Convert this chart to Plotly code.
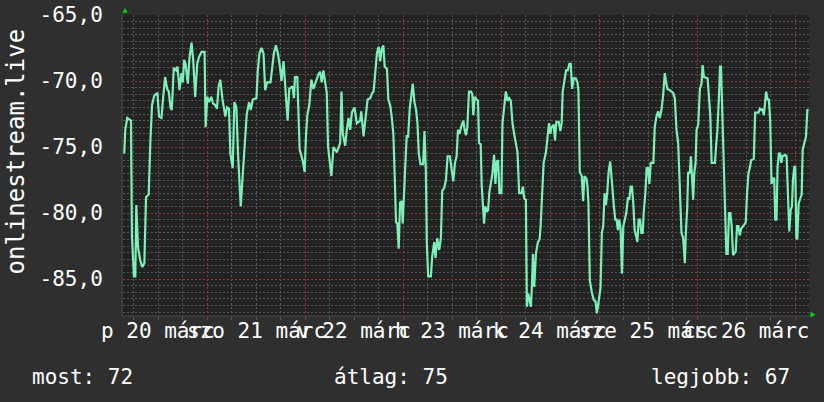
import plotly.graph_objects as go
import pandas as pd

# hours since 2020-03-20 03:00 and signal values
hours = [
    0.74, 0.98, 1.48, 2.38, 2.62, 3.11, 3.44, 3.69, 4.10, 4.67, 5.16, 5.66, 6.07, 6.72, 7.13, 7.54,
    8.11, 8.85, 9.26, 9.84, 10.25, 10.74, 11.23, 11.64, 12.05, 12.38, 12.87, 13.44, 13.77, 14.26,
    14.75, 15.08, 15.41, 15.74, 16.31, 16.72, 17.21, 17.62, 18.11, 18.61, 19.02, 19.67, 20.41,
    20.66, 21.07, 21.48, 22.05, 22.46, 22.95, 23.44, 23.85, 24.26, 24.75, 25.16, 25.49, 25.90,
    26.39, 26.72, 27.30, 27.70, 28.20, 28.61, 29.26, 29.67, 30.25, 30.74, 31.31, 31.72, 32.21,
    33.11, 33.44, 33.85, 34.34, 34.84, 35.25, 35.74, 36.56, 36.89, 37.38, 37.87, 38.36, 38.85,
    39.26, 39.75, 40.33, 40.74, 41.15, 41.97, 42.30,
    42.54, 43.11, 43.36, 43.69, 44.42, 44.92, 45.24, 45.57, 46.06, 46.56, 47.05, 47.54, 48.28,
    48.69, 49.10, 49.51, 49.92, 50.33, 50.65, 51.47, 51.97, 52.79, 53.61, 53.93, 54.26, 54.83,
    55.24, 55.65, 56.06, 56.47, 57.13, 57.70, 58.52, 58.77, 59.34, 59.84, 60.33, 60.98, 61.47,
    61.80, 62.21, 62.62, 63.03, 63.44, 63.77, 64.18, 64.51, 65.08, 65.41, 65.90, 66.23, 66.64,
    66.97, 67.29, 67.62, 67.95, 68.28, 68.69, 68.93, 69.26, 69.59, 69.92, 70.24, 70.65, 70.98,
    71.39, 71.80, 72.21, 72.54, 72.87, 73.28, 73.93, 74.26, 74.59, 74.84, 75.16, 75.82, 76.15,
    76.64, 76.97, 77.38, 77.87, 78.28, 78.61, 79.10, 79.51, 79.92, 80.49, 80.90, 81.31, 81.72,
    82.13, 82.46, 82.87, 83.20,
    83.77, 84.09, 84.42, 84.75, 85.16, 85.65, 85.98, 86.22, 86.55, 87.04, 87.37, 87.62, 88.03,
    88.27, 88.60, 88.85, 89.18, 89.50, 89.83, 90.16, 90.49, 90.90, 91.31, 91.63, 91.96, 92.29,
    92.62, 93.11, 93.36, 93.77, 94.18, 94.59, 95.00, 95.41, 95.81, 96.22, 96.63, 97.04, 97.45,
    98.03, 98.36, 98.68, 99.09, 99.34, 99.67, 100.32, 100.57, 100.82, 101.14, 101.55, 102.04,
    102.45, 102.70, 103.03, 103.44, 104.01, 104.42, 104.75, 105.08, 105.40, 105.90, 106.23,
    106.55, 107.13, 107.54, 107.86, 108.11, 108.52, 108.93, 109.34, 109.75, 110.08, 110.41,
    110.81, 111.31, 111.72, 111.96, 112.29, 112.78, 113.11, 113.44, 113.93, 114.18, 114.42,
    114.75, 115.24, 115.73, 116.14, 116.47, 116.72, 117.05, 117.37, 117.70, 118.03, 118.36,
    118.69, 119.01, 119.34, 119.75, 119.99, 120.24, 120.65, 120.98, 121.31, 121.63, 121.96,
    122.29, 122.62, 122.95, 123.27, 123.68, 124.09, 124.42, 124.75, 125.08,
    125.40, 125.73, 126.14, 126.39, 126.71, 127.04, 127.37, 127.70, 127.94, 128.35, 128.68,
    129.01, 129.34, 129.66, 130.32, 130.65, 131.06, 131.47, 131.88, 132.29, 132.70, 133.11,
    133.43, 133.76, 134.34, 134.75, 135.16, 135.57, 135.98, 136.39, 136.80, 137.20, 137.61,
    138.02, 138.27, 138.60, 138.84, 139.25, 139.50, 139.83, 140.07, 140.32, 140.65, 140.89,
    141.30, 141.71, 142.12, 142.37, 142.70, 143.60, 143.93, 144.25, 144.58, 145.40, 145.65,
    145.98, 146.39, 146.63, 146.88, 147.20, 147.45, 147.86, 148.19, 148.52, 148.84, 149.17,
    149.50, 149.83, 150.48, 150.81, 151.14, 151.47, 151.80, 152.53, 152.94, 153.27, 153.60,
    153.93, 154.25, 154.91, 155.24, 156.06, 156.39, 156.71, 157.04, 157.37, 157.70, 157.94,
    158.27, 158.60, 158.93, 159.25, 159.58, 159.91, 160.16, 160.48, 160.73, 161.06, 161.39,
    161.63, 161.96, 162.62, 162.94, 163.27, 163.60, 163.93, 164.25, 164.50, 164.83, 165.07,
    165.32, 165.56, 165.89, 166.30, 166.63, 166.88, 167.37, 167.70, 168.02, 168.35,
]
values = [
    -75.5, -73.7, -72.8, -73.0, -81.8, -84.8, -84.8, -79.4, -82.6, -83.6, -84.1, -83.8, -78.8, -78.6, -74.6, -71.8,
    -71.1, -70.9, -72.7, -72.8, -71.3, -69.7, -70.6, -70.8, -72.0, -72.2, -69.0, -69.2, -68.9, -70.7,
    -69.4, -70.1, -68.4, -68.7, -70.2, -68.2, -67.1, -68.4, -71.2, -68.7, -68.2, -67.8, -67.8,
    -73.5, -71.2, -71.6, -71.2, -71.7, -71.8, -72.1, -70.4, -69.9, -71.3, -72.0, -72.7, -72.0,
    -72.1, -75.5, -76.6, -71.6, -72.0, -75.6, -79.5, -77.5, -75.0, -72.5, -71.6, -72.2, -71.4,
    -71.3, -69.2, -67.9, -67.5, -67.9, -70.7, -70.1, -70.1, -69.0, -67.9, -67.3, -67.9, -68.9,
    -70.0, -68.5, -71.2, -73.0, -70.6, -70.4, -71.3,
    -69.7, -69.7, -71.9, -75.2, -76.0, -76.9, -74.1, -72.6, -71.8, -69.9, -70.6, -70.1, -69.5,
    -69.3, -70.1, -69.2, -70.1, -70.9, -75.0, -77.2, -75.0, -75.4, -74.7, -70.8, -74.0, -74.9,
    -73.7, -72.8, -73.7, -72.4, -72.0, -73.2, -73.0, -72.3, -74.2, -73.0, -71.4, -71.3, -70.9,
    -70.8, -69.3, -67.9, -67.4, -68.5, -67.6, -67.3, -68.9, -69.1, -71.4, -71.9, -72.7, -74.0,
    -77.2, -80.7, -80.8, -82.7, -79.2, -79.1, -80.8, -78.0, -76.2, -74.1, -74.3, -72.1, -71.1,
    -70.2, -71.6, -72.2, -73.2, -75.5, -76.3, -76.3, -73.8, -76.7, -82.3, -84.8, -84.8, -83.3,
    -82.2, -83.4, -81.9, -82.8, -81.9, -78.3, -78.1, -77.5, -75.7, -75.7, -76.7, -77.6, -76.2,
    -75.7, -73.7, -74.0, -73.5,
    -73.0, -73.7, -74.1, -73.5, -70.8, -70.8, -71.0, -72.6, -71.2, -71.4, -71.5, -74.7, -74.8,
    -77.9, -79.4, -80.8, -79.5, -79.9, -79.8, -78.4, -77.8, -77.0, -75.6, -77.8, -76.1, -76.0,
    -78.5, -78.5, -73.2, -72.1, -70.8, -71.5, -71.3, -71.5, -73.2, -74.0, -74.7, -75.4, -78.5,
    -78.5, -78.0, -78.9, -79.0, -87.1, -86.1, -87.1, -85.6, -83.1, -85.6, -83.1, -82.2,
    -82.0, -81.0, -78.5, -76.2, -75.4, -74.0, -73.2, -74.0, -73.5, -73.3, -74.5,
    -73.1, -73.1, -73.8, -73.2, -70.8, -69.9, -69.2, -69.2, -68.7, -68.7, -70.6,
    -69.8, -69.8, -70.1, -70.7, -76.9, -77.2, -79.1, -77.2, -77.4, -78.0, -79.3,
    -85.1, -86.0, -86.6, -86.7, -87.6, -87.1, -86.5, -85.7, -81.5, -81.0, -78.5,
    -79.4, -78.5, -76.9, -76.1, -77.0, -78.5, -79.5, -80.5, -80.5, -81.3, -80.5,
    -81.2, -84.6, -81.0, -80.5, -80.0, -78.8, -79.0, -78.0, -78.0,
    -79.3, -81.3, -81.8, -82.2, -80.5, -80.5, -81.5, -81.5, -80.0, -78.5, -76.6,
    -76.6, -77.8, -76.2, -76.2, -73.5, -72.7, -72.3, -72.8, -72.2, -71.1, -69.4,
    -70.1, -70.6, -70.7, -70.8, -70.9, -71.3, -73.7, -74.7, -77.6, -81.5, -81.9,
    -83.8, -81.5, -79.6, -76.9, -77.0, -75.7, -78.1, -79.0, -77.0, -76.2, -73.7,
    -73.3, -70.6, -70.2, -68.8, -69.7, -69.8, -71.7, -72.6, -76.2, -76.2, -75.0,
    -73.8, -71.1, -68.9, -68.9, -72.2, -76.5, -79.1, -83.1, -83.1, -80.0, -80.0,
    -81.0, -83.2, -82.9, -81.0, -81.0, -81.7, -81.2, -80.9, -80.7, -78.4, -77.0,
    -76.6, -76.0, -75.9, -72.4, -72.4, -72.1, -72.2, -72.1, -72.6, -71.4, -70.8,
    -71.4, -71.4, -73.0, -77.8, -77.4, -77.4, -80.5, -80.5, -76.5, -75.5, -75.5,
    -76.2, -75.7, -75.6, -75.7, -79.5, -81.4, -79.8, -79.5, -77.5, -76.5, -76.5,
    -81.9, -82.0, -79.3, -78.9, -78.6, -75.2, -74.5, -74.2, -72.2, -72.2,
]

day_labels = ["p 20 márc", "szo 21 márc", "v 22 márc", "h 23 márc",
              "k 24 márc", "sze 25 márc", "cs 26 márc"]
day_label_times = ["2020-03-20 12:00", "2020-03-21 12:00", "2020-03-22 12:00",
                   "2020-03-23 12:00", "2020-03-24 12:00", "2020-03-25 12:00",
                   "2020-03-26 12:00"]
midnights = ["2020-03-21", "2020-03-22", "2020-03-23", "2020-03-24",
             "2020-03-25", "2020-03-26", "2020-03-27"]
ytick_vals = [-85, -80, -75, -70, -65]
ytick_text = ["-85,0", "-80,0", "-75,0", "-70,0", "-65,0"]
y_title = "onlinestream.live"
summary_labels = ["most: 72", "átlag: 75", "legjobb: 67"]
summary_pos = [-0.1356, 0.3047, 0.7663]

start = pd.Timestamp("2020-03-20 03:00")
x = start + pd.to_timedelta(hours, unit="h")

# visible window: one week
x_lo = pd.Timestamp("2020-03-21") - pd.Timedelta(days=84 / 98)
x_hi = x_lo + pd.Timedelta(days=7)

# minor grid positions (every 6 h / every 0.5 unit), skipping the major ones
x_minor = [t for t in pd.date_range("2020-03-20 06:00", "2020-03-27 06:00", freq="6h")
           if t.hour != 0]
y_minor = [v / 2 for v in range(-176, -129) if v % 10 != 0]

FONT = "DejaVu Sans Mono"
BG = "#2f2f2f"
CANVAS = "#222222"
MGRID = "#8a3a3a"
GRID = "#575757"
LINE = "#7cf0b8"

fig = go.Figure()
fig.add_trace(go.Scatter(x=x, y=values, mode="lines",
                         line=dict(color=LINE, width=2.2), hoverinfo="skip"))

fig.update_layout(
    width=824, height=402,
    margin=dict(l=123, r=15, t=15, b=87, autoexpand=False),
    paper_bgcolor=BG, plot_bgcolor=CANVAS,
    showlegend=False,
    font=dict(family=FONT, color="white", size=21),
)

fig.update_xaxes(
    automargin=False,
    range=[x_lo, x_hi],
    tickmode="array", tickvals=midnights, showticklabels=False,
    showgrid=True, gridcolor=MGRID, griddash="2px,2px", gridwidth=1,
    ticks="outside", ticklen=3, tickcolor=MGRID,
    minor=dict(tickmode="array", tickvals=x_minor,
               showgrid=True, gridcolor=GRID, griddash="2px,2px",
               ticks="outside", ticklen=3, tickcolor=GRID),
    zeroline=False, showline=True, linecolor="#3a3a3a", linewidth=2,
)
fig.update_yaxes(
    automargin=False,
    range=[-65 - 300 / 13.2, -65],
    tickmode="array", tickvals=ytick_vals, ticktext=ytick_text,
    tickfont=dict(family=FONT, size=21, color="white"),
    ticklabelstandoff=14, ticklabeloverflow="allow",
    showgrid=True, gridcolor=MGRID, griddash="2px,2px", gridwidth=1,
    minor=dict(tickmode="array", tickvals=y_minor,
               showgrid=True, gridcolor=GRID, griddash="2px,2px"),
    zeroline=False, showline=True, linecolor="#3a3a3a", linewidth=2,
)

for lab, t in zip(day_labels, day_label_times):
    fig.add_annotation(x=t, y=-0.0533, xref="x", yref="paper", text=lab,
                       showarrow=False, xanchor="center", yanchor="middle",
                       font=dict(family=FONT, size=21, color="white"))

for lab, px in zip(summary_labels, summary_pos):
    fig.add_annotation(x=px, y=-0.207, xref="paper", yref="paper", text=lab,
                       showarrow=False, xanchor="left", yanchor="middle",
                       font=dict(family=FONT, size=21, color="white"))

fig.add_annotation(x=-0.156, y=0.545, xref="paper", yref="paper", text=y_title,
                   textangle=-90, showarrow=False, xanchor="center", yanchor="middle",
                   font=dict(family=FONT, size=24, color="white"))

# small green axis arrows
fig.add_shape(type="path", xref="paper", yref="paper",
              path="M -0.0007,1.0077 L 0.0029,1.0233 L 0.0066,1.0077 Z",
              fillcolor="#00dd00", line=dict(width=0))
fig.add_shape(type="path", xref="paper", yref="paper",
              path="M 1.0022,0.0107 L 1.0095,0.001 L 1.0022,-0.0087 Z",
              fillcolor="#00dd00", line=dict(width=0))

fig.write_html("out.html",
               config={"displayModeBar": False},
               post_script="document.body.style.margin='0';"
                           "document.body.style.background='#2f2f2f';")
